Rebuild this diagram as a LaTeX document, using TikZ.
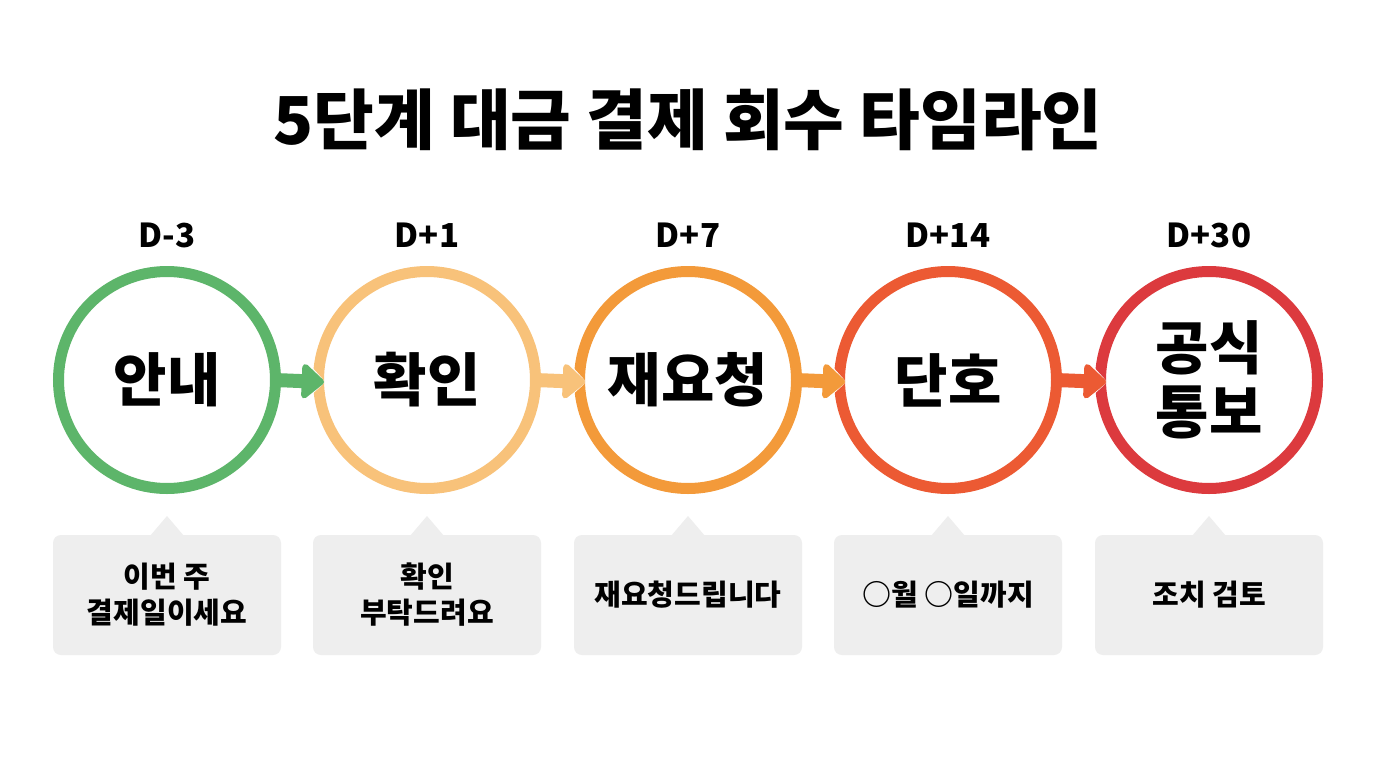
\documentclass[tikz,border=0pt]{standalone}
\usepackage{fontspec}
\setmainfont{Noto Sans CJK KR}
\usetikzlibrary{arrows.meta}
\definecolor{cA}{HTML}{5DB56A}
\definecolor{cB}{HTML}{F8C27A}
\definecolor{cC}{HTML}{F39A3A}
\definecolor{cD}{HTML}{EC5A33}
\definecolor{cE}{HTML}{DC3A3E}
\definecolor{boxg}{HTML}{EEEEEE}
\tikzset{
  ring/.style={draw=#1, line width=11pt, circle, minimum size=217pt, inner sep=0pt, font=\fontsize{58}{64}\bfseries\selectfont, align=center},
  dlab/.style={font=\fontsize{33}{36}\bfseries\selectfont},
  note/.style={fill=boxg, rounded corners=8pt, minimum width=228pt, minimum height=120pt, font=\fontsize{29}{36}\bfseries\selectfont, align=center, inner sep=0pt},
  stepar/.style={line width=14pt, -{Triangle[round, length=24pt, width=40pt]}, draw=#1},
  wbord/.style={line width=24pt, -{Triangle[round, length=28pt, width=54pt]}, draw=white},
}
\begin{document}
\begin{tikzpicture}[x=1pt,y=-1pt]
\fill[white] (0,0) rectangle (1376,768);
\useasboundingbox (0,0) rectangle (1376,768);
\node[font=\fontsize{66}{72}\bfseries\selectfont] (title) at (688,120) {5단계 대금 결제 회수 타임라인};
\foreach \i/\x/\c/\t/\d/\n in {1/167/cA/안내/D-3/{이번 주\\결제일이세요},2/427/cB/확인/D+1/{확인\\부탁드려요},3/688/cC/재요청/D+7/{재요청드립니다},4/948/cD/단호/D+14/{○월 ○일까지},5/1209/cE/{공식\\통보}/D+30/{조치 검토}}{
  \node[ring=\c] (c\i) at (\x,380) {\t};
  \node[dlab] (d\i) at (\x,235) {\d};
  \node[note] (n\i) at (\x,595) {\n};
  \fill[boxg] (\x-17,536) -- (\x,516) -- (\x+17,536) -- cycle;
}
\foreach \i/\j/\c in {1/2/cA,2/3/cB,3/4/cC,4/5/cD}{
  \coordinate (s\i) at ([xshift=-6pt]c\i.east);
  \coordinate (e\i) at ([xshift=11pt,yshift=-2pt]c\j.west);
  \draw[wbord] ([xshift=8pt]s\i) -- (e\i);
  \draw[stepar=\c] (s\i) -- (e\i);
}
\end{tikzpicture}
\end{document}
